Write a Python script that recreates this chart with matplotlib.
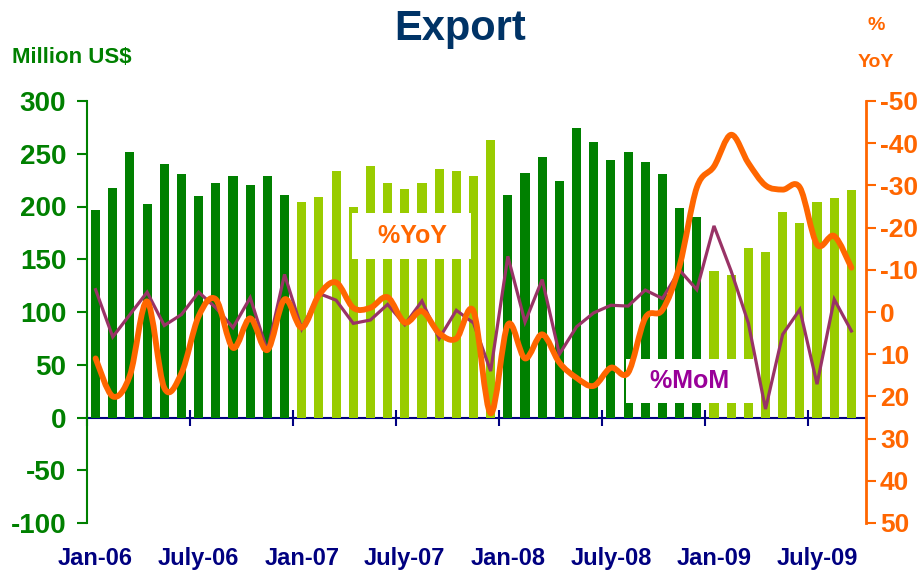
import numpy as np
import matplotlib
matplotlib.use("Agg")
import matplotlib.pyplot as plt
from matplotlib.path import Path
from matplotlib.patches import PathPatch

plt.rcParams['font.family'] = ['Liberation Sans', 'DejaVu Sans']
plt.rcParams['font.weight'] = 'bold'
plt.rcParams['axes.unicode_minus'] = False

# monthly exports, Jan-06 .. Sep-09 (million US$)
exports = [197, 218, 252, 202, 240, 231, 210, 222, 229, 220, 229, 211,
           204, 209, 234, 200, 238, 222, 217, 222, 236, 234, 229, 263,
           211, 232, 247, 224, 274, 261, 244, 252, 242, 231, 199, 190,
           139, 135, 161, 157, 195, 184, 204, 208, 216]
# % YoY and % MoM (right axis, inverted)
yoy = [11, 20, 15, -2.5, 18, 14.5, 1, -3, 8.5, 1.5, 9, -3,
       3.7, -4, -7, -1, -1, -3.5, 2.5, -0.2, 5, 6.3, -0.2, 24,
       3, 11, 5.3, 12, 15.6, 17.5, 13.2, 14.4, 1.4, -0.5, -11, -29.5,
       -34.5, -42, -35.3, -30, -29, -29.5, -16, -18, -10.5]
mom = [-5.3, 5.9, 0.6, -4.7, 3.2, 0.6, -4.7, -1.0, 3.7, -3.4, 9.3, -8.9,
       4.0, -4.4, -2.8, 2.7, 1.9, -1.8, 3.0, -2.6, 6.3, -0.4, 2.6, 14.0,
       -13.2, 2.4, -7.7, 10.0, 3.5, 0.2, -1.6, -1.4, -5.2, -3.2, -9.9, -5.3,
       -20.4, -9.7, 2.6, 23.0, 5.3, -0.6, 17.1, -3.0, 4.5]
tick_labels = ["Jan-06", "July-06", "Jan-07", "July-07",
               "Jan-08", "July-08", "Jan-09", "July-09"]

dark = '#008000'
light = '#99CC00'
orange = '#FF6600'
purple = '#993366'
navy = '#000080'

x = np.arange(len(exports))
bar_cols = [dark if (i // 12) % 2 == 0 else light for i in x]

fig = plt.figure(figsize=(9.17, 5.72), dpi=100)
ax = fig.add_axes([87/917, 49/572, 779/917, 422/572])
ax.bar(x, exports, width=0.53, color=bar_cols, zorder=2)
ax.set_xlim(-0.5, 44.85)
ax.set_ylim(-100, 300)
ax.set_yticks(range(-100, 301, 50))
ax.tick_params(axis='y', colors=dark, labelsize=20, length=7, width=1.5, pad=8)
for s in ['top', 'right', 'bottom']:
    ax.spines[s].set_visible(False)
ax.spines['left'].set_color(dark)
ax.spines['left'].set_linewidth(1.5)
ax.set_xticks(x[::6])
ax.set_xticklabels(tick_labels)
ax.tick_params(axis='x', length=0, labelsize=17, labelcolor=navy, pad=17)

# zero line with ticks at half-year boundaries
zero = ax.secondary_xaxis(0.25)
zero.set_xticks(np.arange(-0.5, 45, 6))
zero.set_xticklabels([])
zero.spines['bottom'].set_color(navy)
zero.spines['bottom'].set_linewidth(1.5)
zero.tick_params(direction='inout', length=12, width=1.5, color=navy)

ax2 = ax.twinx()
ax2.set_ylim(50, -50)
ax2.set_yticks(range(-50, 51, 10))
ax2.tick_params(axis='y', colors=orange, labelsize=19, length=7, width=1.5, pad=3)
for s in ['top', 'left', 'bottom']:
    ax2.spines[s].set_visible(False)
ax2.spines['right'].set_color(orange)
ax2.spines['right'].set_linewidth(2)

# smooth YoY line (Catmull-Rom as cubic Bezier)
pts = np.column_stack([x, yoy]).astype(float)
verts = [pts[0]]
codes = [Path.MOVETO]
for i in range(len(pts) - 1):
    p0 = pts[max(i - 1, 0)]
    p1 = pts[i]
    p2 = pts[i + 1]
    p3 = pts[min(i + 2, len(pts) - 1)]
    verts += [p1 + (p2 - p0) / 6, p2 - (p3 - p1) / 6, p2]
    codes += [Path.CURVE4] * 3
ax2.add_patch(PathPatch(Path(verts, codes), facecolor='none', edgecolor=orange,
                        lw=4.2, capstyle='round', joinstyle='round', zorder=4))
ax2.plot(x, mom, color=purple, lw=2.3, zorder=3, solid_joinstyle='miter')

ax2.text(0.417, 0.68, '  %YoY  ', transform=ax2.transAxes, ha='center', va='center',
         color=orange, fontsize=18, zorder=1,
         bbox=dict(boxstyle='square,pad=0.45', fc='white', ec='none'))
ax2.text(0.774, 0.336, '  %MoM  ', transform=ax2.transAxes, ha='center', va='center',
         color='#990099', fontsize=18, zorder=1,
         bbox=dict(boxstyle='square,pad=0.4', fc='white', ec='none'))

fig.text(460/917, (572-40)/572, 'Export', ha='center', va='baseline',
         fontsize=30, color='#003366')
fig.text(12/917, (572-63)/572, 'Million US$', ha='left', va='baseline',
         fontsize=16, color=dark)
fig.text(876/917, (572-30)/572, '%', ha='center', va='baseline',
         fontsize=14, color=orange)
fig.text(876/917, (572-67)/572, 'YoY', ha='center', va='baseline',
         fontsize=14, color=orange)

fig.savefig('out.png', dpi=100)
